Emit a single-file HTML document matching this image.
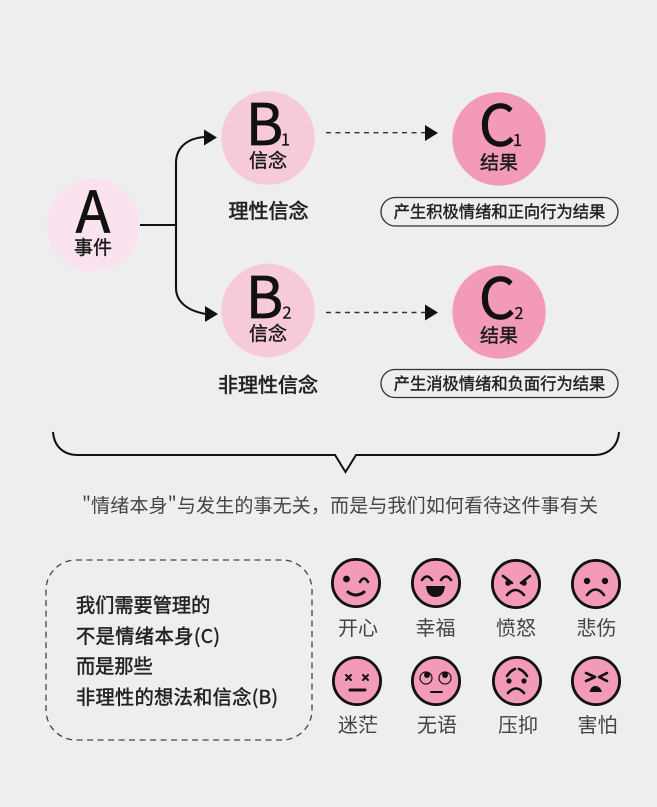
<!DOCTYPE html>
<html lang="zh">
<head>
<meta charset="utf-8">
<style>
html,body{margin:0;padding:0;background:#eeeeee;width:657px;height:807px;overflow:hidden}
svg{display:block}
text{font-family:"Noto Sans CJK SC","Liberation Sans",sans-serif}
.l{fill:#111;stroke:#111;stroke-width:.7px;text-anchor:middle;font-size:57px}
.u{fill:#111;stroke:#111;stroke-width:.2px;text-anchor:middle;font-size:16.5px}
.z{fill:#1a1a1a;stroke:#1a1a1a;stroke-width:.4px;text-anchor:middle}
.t{fill:#222;font-size:20px;stroke:#222;stroke-width:.6px;text-anchor:middle}
.p{fill:#222;font-size:16.3px;stroke:#222;stroke-width:.4px;text-anchor:middle}
.b{fill:#222;font-size:19.2px;stroke:#222;stroke-width:.5px}
.e{fill:#444;font-size:20px;text-anchor:middle}
.f{fill:#f49ab9;stroke:#111;stroke-width:2.8}
.s{fill:none;stroke:#111;stroke-width:2.6;stroke-linecap:round;stroke-linejoin:round}
</style>
</head>
<body>
<svg width="657" height="807" viewBox="0 0 657 807" xmlns="http://www.w3.org/2000/svg">
<rect width="657" height="807" fill="#eeeeee"/>

<!-- circles -->
<circle cx="93" cy="225" r="46.5" fill="#fae3ee"/>
<circle cx="268" cy="138" r="46.7" fill="#f6cadb"/>
<circle cx="268" cy="310.5" r="46.7" fill="#f6cadb"/>
<circle cx="499" cy="139" r="46.7" fill="#f49ab9"/>
<circle cx="499" cy="312" r="46.7" fill="#f49ab9"/>

<!-- letters -->
<text class="l" x="93" y="232.5">A</text>
<text class="z" x="93" y="254" font-size="19">事件</text>
<text class="l" x="264.500" y="145">B</text>
<text class="u" x="285.500" y="145.500">1</text>
<text class="z" x="268" y="167" font-size="19">信念</text>
<text class="l" x="264.500" y="318">B</text>
<text class="u" x="287" y="318.500">2</text>
<text class="z" x="268" y="340" font-size="19">信念</text>
<text class="l" x="497" y="146">C</text>
<text class="u" x="517.500" y="146">1</text>
<text class="z" x="499" y="169" font-size="19">结果</text>
<text class="l" x="497" y="319">C</text>
<text class="u" x="519" y="319">2</text>
<text class="z" x="499" y="342" font-size="19">结果</text>

<!-- connectors -->
<path d="M140 225H176M205 137C188 138 176 147 176 163V288C176 302 188 311 206 314" fill="none" stroke="#111" stroke-width="2.1"/>
<path d="M204 129.500L217 137.500L204 145.500Z" fill="#111"/>
<path d="M205 306L218 314L205 322Z" fill="#111"/>
<path d="M326 132.700H426" fill="none" stroke="#333" stroke-width="1.4" stroke-dasharray="5 4.500"/>
<path d="M425 125L438 133L425 141Z" fill="#111"/>
<path d="M326 312.500H426" fill="none" stroke="#333" stroke-width="1.4" stroke-dasharray="5 4.500"/>
<path d="M425 304.500L438 312.500L425 320.500Z" fill="#111"/>

<!-- labels -->
<text class="t" x="268.500" y="218">理性信念</text>
<text class="t" x="268" y="392">非理性信念</text>
<rect x="381" y="197.500" width="237" height="28.500" rx="14.200" fill="none" stroke="#333" stroke-width="1.300"/>
<text class="p" x="499.500" y="217.500">产生积极情绪和正向行为结果</text>
<rect x="381" y="369.500" width="237" height="28" rx="14" fill="none" stroke="#333" stroke-width="1.300"/>
<text class="p" x="499.500" y="389.500">产生消极情绪和负面行为结果</text>

<!-- brace -->
<path d="M53 432C54 446 63 455 78 455H335L345.500 472L356 455H594C609 455 618 446 619 432" fill="none" stroke="#111" stroke-width="2"/>
<text x="82" y="512" font-size="19" fill="#444" textLength="516" lengthAdjust="spacing">"情绪本身"与发生的事无关，而是与我们如何看待这件事有关</text>

<!-- dashed box -->
<rect x="46" y="560" width="266" height="180" rx="30" fill="none" stroke="#444" stroke-width="1.300" stroke-dasharray="6 4.500"/>
<text class="b" x="76" y="612">我们需要管理的</text>
<text class="b" x="76" y="643" textLength="144" lengthAdjust="spacing">不是情绪本身(C)</text>
<text class="b" x="76" y="673">而是那些</text>
<text class="b" x="76" y="704" textLength="202" lengthAdjust="spacing">非理性的想法和信念(B)</text>

<!-- 开心 -->
<circle class="f" cx="356" cy="583" r="23.600"/>
<circle cx="346.500" cy="579" r="3.400" fill="#111"/>
<path class="s" d="M360 582Q364 575 368 582"/>
<path class="s" style="stroke-width:3" d="M348 592Q355.500 598 364 592"/>
<text class="e" x="358" y="635">开心</text>
<!-- 幸福 -->
<circle class="f" cx="436" cy="583" r="23.600"/>
<path class="s" d="M422 580Q427 573 432 580M441 580Q446 573 451 580"/>
<path d="M426 586H445Q444 597 435.500 597Q427 597 426 586Z" fill="#111"/>
<text class="e" x="435.500" y="635">幸福</text>
<!-- 愤怒 -->
<circle class="f" cx="516" cy="584" r="23.600"/>
<path class="s" d="M503 576L512 583M530 576L521 583M507 595Q515.500 585 524 595"/>
<circle cx="508" cy="583" r="2.800" fill="#111"/>
<circle cx="524" cy="583" r="2.800" fill="#111"/>
<text class="e" x="516" y="635">愤怒</text>
<!-- 悲伤 -->
<circle class="f" cx="596" cy="584" r="23.600"/>
<circle cx="587" cy="581" r="3.200" fill="#111"/>
<circle cx="605" cy="581" r="3.200" fill="#111"/>
<path class="s" d="M587 595Q595.500 584 604 595"/>
<text class="e" x="596.500" y="635">悲伤</text>
<!-- 迷茫 -->
<circle class="f" cx="357" cy="681" r="23.600"/>
<path class="s" style="stroke-width:2" d="M346 675L351 680M351 675L346 680M363 675L368 680M368 675L363 680"/>
<path class="s" style="stroke-width:3" d="M350 690H365"/>
<text class="e" x="358" y="732">迷茫</text>
<!-- 无语 -->
<circle class="f" cx="436" cy="681" r="23.600"/>
<circle cx="426" cy="678" r="6" fill="none" stroke="#111" stroke-width="1.200"/>
<circle cx="445" cy="678" r="6" fill="none" stroke="#111" stroke-width="1.200"/>
<circle cx="427" cy="675" r="3" fill="#111"/>
<circle cx="445" cy="675" r="3" fill="#111"/>
<path class="s" style="stroke-width:2" d="M431 692H442"/>
<text class="e" x="437" y="732">无语</text>
<!-- 压抑 -->
<circle class="f" cx="517" cy="681" r="23.600"/>
<path class="s" d="M507 676Q510 671 515 669M519 669Q524 671 527 676M508 693Q516 684 524 693"/>
<circle cx="509" cy="681" r="2.600" fill="#111"/>
<circle cx="524" cy="681" r="2.600" fill="#111"/>
<text class="e" x="518" y="732">压抑</text>
<!-- 害怕 -->
<circle class="f" cx="596" cy="681" r="23.600"/>
<path class="s" d="M586 673L595 677L586 681M607 673L599 677L607 681"/>
<path d="M589.500 692Q591 686 595.500 686Q600 686 602 692Z" fill="#111"/>
<text class="e" x="597.500" y="732">害怕</text>
</svg>
</body>
</html>
